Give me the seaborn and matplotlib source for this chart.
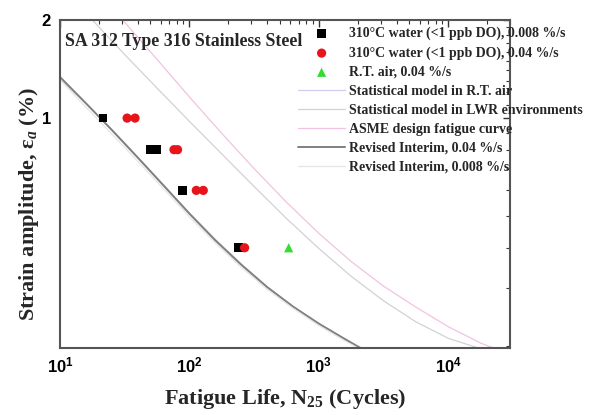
import numpy as np
import pandas as pd
import matplotlib
matplotlib.use("Agg")
import matplotlib.pyplot as plt
import seaborn as sns
from matplotlib.ticker import FixedLocator, NullFormatter, FuncFormatter

# test data
n_slow = [21.5, 50, 56, 88, 240]
e_slow = [1.0, 0.8, 0.8, 0.6, 0.4]
n_fast = [33, 38, 76, 81, 113, 128, 267]
e_fast = [1.0, 1.0, 0.8, 0.8, 0.6, 0.6, 0.4]
n_air = [585]
e_air = [0.4]

# model / design curves
n_rev04 = [10, 15.8, 25.1, 39.8, 63.1, 100, 158, 251, 398, 631, 1000, 1585, 2239]
e_rev04 = [1.337, 1.112, 0.920, 0.757, 0.621, 0.509, 0.422, 0.355, 0.303, 0.264, 0.234, 0.210, 0.194]
n_rev008 = [10, 15.5, 24.5, 39, 62, 98, 155, 246, 390, 620, 980, 1560, 2190]
e_rev008 = [1.31, 1.09, 0.903, 0.744, 0.611, 0.502, 0.417, 0.351, 0.300, 0.262, 0.232, 0.208, 0.193]
n_air_model = [10, 16.2, 25.8, 40.8, 64.5, 102, 162, 257, 407, 645, 1020, 1620, 2290]
e_air_model = [1.32, 1.10, 0.913, 0.752, 0.618, 0.507, 0.421, 0.354, 0.302, 0.263, 0.233, 0.209, 0.194]
n_lwr = [17.8, 31.6, 56.2, 100, 178, 316, 562, 1000, 1778, 3162, 5623, 10000, 17783]
e_lwr = [2.0, 1.567, 1.236, 0.977, 0.776, 0.617, 0.492, 0.398, 0.327, 0.275, 0.237, 0.211, 0.196]
n_asme = [30.5, 56.2, 100, 178, 316, 562, 1000, 1778, 3162, 5623, 10000, 17783, 22387]
e_asme = [2.0, 1.514, 1.161, 0.897, 0.700, 0.552, 0.443, 0.363, 0.305, 0.263, 0.229, 0.204, 0.197]

sns.set_style("white")
plt.rcParams['font.family'] = ['Liberation Serif', 'DejaVu Serif']
plt.rcParams['font.weight'] = 'bold'
plt.rcParams['mathtext.fontset'] = 'custom'
plt.rcParams['mathtext.rm'] = 'Liberation Serif:bold'
plt.rcParams['mathtext.it'] = 'Liberation Serif:bold:italic'
plt.rcParams['mathtext.bf'] = 'Liberation Serif:bold'
plt.rcParams['mathtext.sf'] = 'Liberation Sans:bold'

fig = plt.figure(figsize=(5.95, 4.15), dpi=100)
ax = fig.add_axes([60 / 595, 1 - 348 / 415, 450 / 595, 328 / 415])

curves = [
    (n_air_model, e_air_model, 'Statistical model in R.T. air', '#cfcdf0', 0.9),
    (n_lwr, e_lwr, 'Statistical model in LWR environments', '#d2d2d2', 0.9),
    (n_asme, e_asme, 'ASME design fatigue curve', '#f2c2e2', 0.9),
    (n_rev04, e_rev04, 'Revised Interim, 0.04 %/s', '#808080', 1.4),
    (n_rev008, e_rev008, 'Revised Interim, 0.008 %/s', '#e6e6e6', 0.9),
]
for n, e, lab, col, lw in curves:
    sns.lineplot(x=n, y=e, ax=ax, color=col, lw=lw, label=lab, sort=False)

sns.scatterplot(x=n_slow, y=e_slow, ax=ax, marker='s', color='black', s=38,
                edgecolor='none', label='310°C water (<1 ppb DO), 0.008 %/s', zorder=5)
sns.scatterplot(x=n_fast, y=e_fast, ax=ax, marker='o', color='#e8141c', s=44,
                edgecolor='none', label='310°C water (<1 ppb DO), 0.04 %/s', zorder=5)
sns.scatterplot(x=n_air, y=e_air, ax=ax, marker='^', color='#33dd33', s=44,
                edgecolor='none', label='R.T. air, 0.04 %/s', zorder=5)

ax.set_xscale('log')
ax.set_yscale('log')
ax.set_xlim(10, 3e4)
ax.set_ylim(0.197, 2.0)

ax.xaxis.set_major_locator(FixedLocator([10, 100, 1000, 10000]))
ax.xaxis.set_major_formatter(FuncFormatter(
    lambda v, p: r'$\mathsf{10^{%d}}$' % round(np.log10(v))))
ax.xaxis.set_minor_locator(FixedLocator(
    [m * 10 ** k for k in range(1, 5) for m in range(2, 10)]))
ax.xaxis.set_minor_formatter(NullFormatter())
ax.yaxis.set_major_locator(FixedLocator([1, 2]))
ax.yaxis.set_major_formatter(FuncFormatter(lambda v, p: r'$\mathsf{%d}$' % v))
ax.yaxis.set_minor_locator(FixedLocator(
    [round(0.1 * i, 1) for i in range(2, 10)] + [1 + 0.1 * i for i in range(1, 10)]))
ax.yaxis.set_minor_formatter(NullFormatter())

ax.tick_params(which='both', direction='in', top=True, right=True,
               colors='#333333', labelcolor='black')
ax.tick_params(which='major', length=5, width=1, labelsize=12, pad=6)
ax.tick_params(which='minor', length=3, width=0.8)
for sp in ax.spines.values():
    sp.set_color('#555555')
    sp.set_linewidth(1.5)

ax.set_xlabel(r'Fatigue Life, N$_{25}$ (Cycles)', fontsize=16, fontweight='bold', labelpad=8)
ax.set_ylabel(r'Strain amplitude, ε$_{a}$ (%)', fontsize=16, fontweight='bold')
ax.yaxis.set_label_coords(-0.042, 0.44)
ax.text(0.012, 0.935, 'SA 312 Type 316 Stainless Steel', transform=ax.transAxes,
        fontsize=12.8, fontweight='bold', va='center', ha='left')

h, l = ax.get_legend_handles_labels()
order = [5, 6, 7, 0, 1, 2, 3, 4]
ax.legend([h[i] for i in order], [l[i] for i in order],
          loc='upper left', bbox_to_anchor=(298 / 595, 1 - 27 / 415),
          bbox_transform=fig.transFigure, frameon=False, fontsize=10,
          handlelength=3.4, handletextpad=0.25, labelspacing=0.43,
          borderaxespad=0, borderpad=0)

fig.savefig('out.png', dpi=100)
